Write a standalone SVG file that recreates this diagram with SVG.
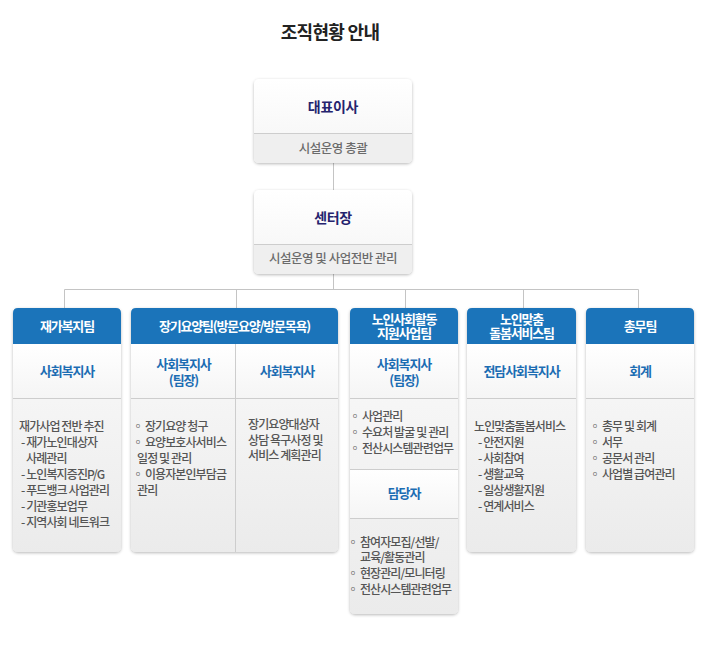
<svg xmlns="http://www.w3.org/2000/svg" width="708" height="647" viewBox="0 0 708 647">
<defs>
<linearGradient id="gBody" x1="0" y1="0" x2="0" y2="1"><stop offset="0" stop-color="#fbfbfb"/><stop offset="1" stop-color="#ebebeb"/></linearGradient>
<linearGradient id="gSub" x1="0" y1="0" x2="0" y2="1"><stop offset="0" stop-color="#ffffff"/><stop offset="1" stop-color="#f5f5f5"/></linearGradient>
<linearGradient id="gTop" x1="0" y1="0" x2="0" y2="1"><stop offset="0" stop-color="#ffffff"/><stop offset="1" stop-color="#f4f4f4"/></linearGradient>
<filter id="sh" x="-10%" y="-10%" width="120%" height="120%"><feDropShadow dx="0" dy="1" stdDeviation="1.7" flood-color="#000" flood-opacity="0.28"/></filter>
</defs>
<style>
text{font-family:"Noto Sans CJK KR","Noto Sans",sans-serif}
.title{font-size:18px;font-weight:700;fill:#222;letter-spacing:-0.7px}
.tt{font-size:14px;font-weight:700;fill:#25236e;letter-spacing:-0.3px}
.ts{font-size:12.5px;font-weight:500;fill:#6b6b6b;letter-spacing:-0.5px}
.hd{font-size:13px;font-weight:700;fill:#fff;letter-spacing:-1.2px}
.sb{font-size:13px;font-weight:700;fill:#1c6db3;letter-spacing:-1.1px}
.bd{font-size:12px;font-weight:500;fill:#555;letter-spacing:-0.9px}
.c{text-anchor:middle}
.ln{stroke:#c4c4c4;stroke-width:1;fill:none}
.dv{stroke:#cdcdcd;stroke-width:1;fill:none}
.hb{fill:#1b74ba}
</style>
<rect width="708" height="647" fill="#fff"/>
<text class="title c" x="330" y="39">조직현황 안내</text>

<g id="connectors">
<path class="ln" d="M333.5 163V190M333.5 274V289.5M64.5 289.5H638.5M64.5 289.5V308M236.5 289.5V308M405.5 289.5V308M523.5 289.5V308M638.5 289.5V308"/>
</g>

<g id="ceo">
<rect x="254" y="79" width="158" height="84" rx="5" fill="url(#gTop)" filter="url(#sh)"/>
<path d="M254 133H412V158Q412 163 407 163H259Q254 163 254 158Z" fill="#efefef"/>
<path class="dv" d="M254 133.5H412"/>
<text class="tt c" x="333" y="112">대표이사</text>
<text class="ts c" x="333" y="153">시설운영 총괄</text>
</g>

<g id="director">
<rect x="254" y="190" width="158" height="84" rx="5" fill="url(#gTop)" filter="url(#sh)"/>
<path d="M254 244H412V269Q412 274 407 274H259Q254 274 254 269Z" fill="#efefef"/>
<path class="dv" d="M254 244.5H412"/>
<text class="tt c" x="333" y="223">센터장</text>
<text class="ts c" x="333" y="263">시설운영 및 사업전반 관리</text>
</g>

<g id="team1">
<rect x="13" y="308" width="108" height="244" rx="5" fill="url(#gBody)" filter="url(#sh)"/>
<rect x="13" y="344" width="108" height="54" fill="url(#gSub)"/>
<path class="hb" d="M13 344V313Q13 308 18 308H116Q121 308 121 313V344Z"/>
<path class="dv" d="M13 398.5H121"/>
<text class="hd c" x="67" y="331">재가복지팀</text>
<text class="sb c" x="67" y="376">사회복지사</text>
<text class="bd" x="19" y="431">재가사업 전반 추진</text>
<text class="bd" x="21" y="447">- 재가노인대상자</text>
<text class="bd" x="26" y="463">사례관리</text>
<text class="bd" x="21" y="479">- 노인복지증진P/G</text>
<text class="bd" x="21" y="495">- 푸드뱅크 사업관리</text>
<text class="bd" x="21" y="511">- 기관홍보업무</text>
<text class="bd" x="21" y="527">- 지역사회 네트워크</text>
</g>

<g id="team2">
<rect x="131" y="308" width="207" height="244" rx="5" fill="url(#gBody)" filter="url(#sh)"/>
<rect x="131" y="344" width="207" height="54" fill="url(#gSub)"/>
<path class="hb" d="M131 344V313Q131 308 136 308H333Q338 308 338 313V344Z"/>
<path class="dv" d="M131 398.5H338M235.5 344V552"/>
<text class="hd c" x="234.5" y="331">장기요양팀(방문요양/방문목욕)</text>
<text class="sb c" x="183.5" y="369">사회복지사<tspan x="183.5" dy="16">(팀장)</tspan></text>
<text class="sb c" x="287" y="376">사회복지사</text>
<text class="bd" x="132" y="431">◦ 장기요양 청구</text>
<text class="bd" x="132" y="447">◦ 요양보호사서비스</text>
<text class="bd" x="137" y="463">일정 및 관리</text>
<text class="bd" x="132" y="479">◦ 이용자본인부담금</text>
<text class="bd" x="137" y="495">관리</text>
<text class="bd" x="248" y="429">장기요양대상자</text>
<text class="bd" x="248" y="445">상담 욕구사정 및</text>
<text class="bd" x="248" y="460">서비스 계획관리</text>
</g>

<g id="team3">
<rect x="350" y="308" width="108" height="306" rx="5" fill="url(#gBody)" filter="url(#sh)"/>
<rect x="350" y="344" width="108" height="54" fill="url(#gSub)"/>
<rect x="350" y="469" width="108" height="49" fill="url(#gSub)"/>
<path class="hb" d="M350 344V313Q350 308 355 308H453Q458 308 458 313V344Z"/>
<path class="dv" d="M350 398.5H458M350 469.5H458M350 518.5H458"/>
<text class="hd c" x="404" y="324">노인사회활동<tspan x="404" dy="14">지원사업팀</tspan></text>
<text class="sb c" x="404" y="369">사회복지사<tspan x="404" dy="16">(팀장)</tspan></text>
<text class="bd" x="349" y="421">◦ 사업관리</text>
<text class="bd" x="349" y="437">◦ 수요처 발굴 및 관리</text>
<text class="bd" x="349" y="453">◦ 전산시스템관련업무</text>
<text class="sb c" x="404" y="498">담당자</text>
<text class="bd" x="347" y="547">◦ 참여자모집/선발/</text>
<text class="bd" x="360" y="562">교육/활동관리</text>
<text class="bd" x="347" y="578">◦ 현장관리/모니터링</text>
<text class="bd" x="347" y="594">◦ 전산시스템관련업무</text>
</g>

<g id="team4">
<rect x="467" y="308" width="109" height="244" rx="5" fill="url(#gBody)" filter="url(#sh)"/>
<rect x="467" y="344" width="109" height="54" fill="url(#gSub)"/>
<path class="hb" d="M467 344V313Q467 308 472 308H571Q576 308 576 313V344Z"/>
<path class="dv" d="M467 398.5H576"/>
<text class="hd c" x="521.5" y="324">노인맞춤<tspan x="521.5" dy="14">돌봄서비스팀</tspan></text>
<text class="sb c" x="521.5" y="376">전담사회복지사</text>
<text class="bd" x="474" y="431">노인맞춤돌봄서비스</text>
<text class="bd" x="478" y="447">- 안전지원</text>
<text class="bd" x="478" y="463">- 사회참여</text>
<text class="bd" x="478" y="479">- 생활교육</text>
<text class="bd" x="478" y="495">- 일상생활지원</text>
<text class="bd" x="478" y="511">- 연계서비스</text>
</g>

<g id="team5">
<rect x="586" y="308" width="108" height="244" rx="5" fill="url(#gBody)" filter="url(#sh)"/>
<rect x="586" y="344" width="108" height="54" fill="url(#gSub)"/>
<path class="hb" d="M586 344V313Q586 308 591 308H689Q694 308 694 313V344Z"/>
<path class="dv" d="M586 398.5H694"/>
<text class="hd c" x="640" y="331">총무팀</text>
<text class="sb c" x="640" y="376">회계</text>
<text class="bd" x="589" y="431">◦ 총무 및 회계</text>
<text class="bd" x="589" y="447">◦ 서무</text>
<text class="bd" x="589" y="463">◦ 공문서 관리</text>
<text class="bd" x="589" y="479">◦ 사업별 급여관리</text>
</g>
</svg>
